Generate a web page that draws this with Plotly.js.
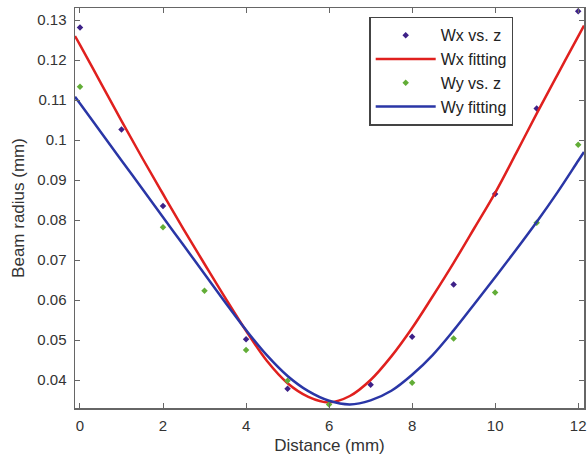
<!DOCTYPE html>
<html>
<head>
<meta charset="utf-8">
<script src="https://cdn.plot.ly/plotly-3.0.1.min.js"></script>
<style>html,body{margin:0;padding:0;background:#fff;}#chart{width:588px;height:456px;}</style>
</head>
<body>
<div id="chart"></div>
<script>
// Measured points (null = not visible in the picture)
var zPoints = [0, 1, 2, 3, 4, 5, 6, 7, 8, 9, 10, 11, 12];
var wxMeasured = [0.1281, 0.1026, 0.0835, null, 0.0502, 0.0378, null, 0.0388, 0.0508, 0.0639, 0.0865, 0.1079, 0.1322];
var wyMeasured = [0.1133, null, 0.0782, 0.0623, 0.0475, 0.0398, 0.0339, null, 0.0393, 0.0504, 0.0619, 0.0793, 0.0988];

// Fitted curves
var zFit = [-0.12, 0, 0.5, 1, 1.5, 2, 2.5, 3, 3.5, 4, 4.5, 5, 5.5, 6, 6.5, 7, 7.5, 8, 8.5, 9, 9.5, 10, 10.5, 11, 11.5, 12, 12.14];
var wxFit = [0.1260, 0.1238, 0.1143, 0.1048, 0.0955, 0.0865, 0.0776, 0.0690, 0.0605, 0.0523, 0.0448, 0.0392, 0.0358, 0.0344, 0.0360, 0.0400, 0.0459, 0.0530, 0.0610, 0.0693, 0.0780, 0.0868, 0.0966, 0.1066, 0.1163, 0.1259, 0.1286];
var wyFit = [0.1108, 0.1091, 0.1020, 0.0949, 0.0878, 0.0807, 0.0736, 0.0665, 0.0594, 0.0525, 0.0462, 0.0410, 0.0372, 0.0348, 0.0339, 0.0349, 0.0373, 0.0413, 0.0463, 0.0524, 0.0590, 0.0657, 0.0725, 0.0795, 0.0869, 0.0948, 0.0970];

// Tick labels
var xTickVals = [0, 2, 4, 6, 8, 10, 12];
var xTickText = ["0", "2", "4", "6", "8", "10", "12"];
var yTickVals = [0.04, 0.05, 0.06, 0.07, 0.08, 0.09, 0.1, 0.11, 0.12, 0.13];
var yTickText = ["0.04", "0.05", "0.06", "0.07", "0.08", "0.09", "0.1", "0.11", "0.12", "0.13"];

var traces = [
  {x: zPoints, y: wxMeasured, name: "Wx vs. z", type: "scatter", mode: "markers",
   marker: {symbol: "diamond", size: 5, color: "#3d2188"}},
  {x: zFit, y: wxFit, name: "Wx fitting", type: "scatter", mode: "lines",
   line: {color: "#e0201e", width: 2.5, shape: "spline", smoothing: 1}},
  {x: zPoints, y: wyMeasured, name: "Wy vs. z", type: "scatter", mode: "markers",
   marker: {symbol: "diamond", size: 5, color: "#62ad37"}},
  {x: zFit, y: wyFit, name: "Wy fitting", type: "scatter", mode: "lines",
   line: {color: "#2a36a6", width: 2.5, shape: "spline", smoothing: 1}}
];

var axisCommon = {
  showline: true, linecolor: "#666", linewidth: 1.5, mirror: "ticks",
  ticks: "inside", ticklen: 5, tickcolor: "#666", showgrid: false, zeroline: false,
  tickfont: {family: "Liberation Sans, Arial, sans-serif", size: 15, color: "#333"}
};

var layout = {
  width: 588, height: 456,
  margin: {l: 75, r: 4, t: 8, b: 48},
  paper_bgcolor: "#fff", plot_bgcolor: "#fff",
  font: {family: "Liberation Sans, Arial, sans-serif", color: "#333"},
  xaxis: Object.assign({}, axisCommon, {
    range: [-0.12, 12.14], tickmode: "array", tickvals: xTickVals, ticktext: xTickText,
    ticklabelstandoff: 3,
    title: {text: "Distance (mm)", font: {size: 17, color: "#333"}, standoff: 6}
  }),
  yaxis: Object.assign({}, axisCommon, {
    range: [0.033, 0.133], tickmode: "array", tickvals: yTickVals, ticktext: yTickText,
    ticklabelstandoff: 4,
    title: {text: "Beam radius (mm)", font: {size: 17, color: "#333"}, standoff: 8}
  }),
  legend: {
    x: 0.578, y: 0.978, xanchor: "left", yanchor: "top",
    bordercolor: "#444", borderwidth: 1.5, bgcolor: "#fff",
    font: {family: "Liberation Sans, Arial, sans-serif", size: 16, color: "#222"},
    itemwidth: 60, tracegroupgap: 0
  },
  showlegend: true
};

Plotly.newPlot("chart", traces, layout, {displayModeBar: false, staticPlot: true});
</script>
</body>
</html>
